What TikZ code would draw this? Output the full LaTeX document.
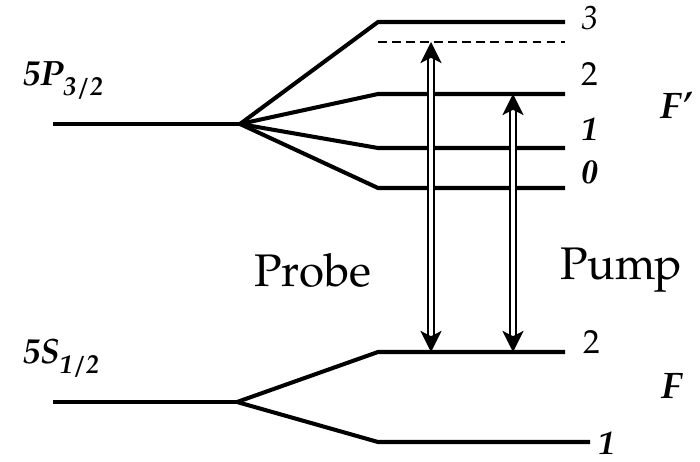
\documentclass[tikz,border=0pt]{standalone}
\usepackage{fontspec}
\setmainfont{texgyrepagella}[Extension=.otf, UprightFont=*-regular, BoldFont=*-bold, ItalicFont=*-italic, BoldItalicFont=*-bolditalic]
\usetikzlibrary{arrows.meta}

\tikzset{
	level/.style={line width=2.3pt},
	fan/.style={line width=2.3pt},
	beam/.style={double, double distance=2.6pt, line width=1.2pt, {Stealth[length=12pt, width=12pt, inset=3pt]}-{Stealth[length=12pt, width=12pt, inset=3pt]}},
	fnum/.style={font=\fontsize{19}{22}\selectfont\bfseries\itshape},
	hyper/.style={font=\fontsize{21}{24}\selectfont\bfseries\itshape},
	term/.style={font=\fontsize{20}{24}\selectfont\bfseries\itshape, anchor=south west, inner sep=0pt},
	beamlabel/.style={font=\fontsize{26}{30}\selectfont}
}
\newcommand{\sublow}[1]{\kern-0.5pt\raisebox{-0.28em}{\fontsize{15}{17}\selectfont #1}}

\begin{document}
\begin{tikzpicture}[x=0.02cm, y=-0.02cm]
		\useasboundingbox (0, 0) rectangle (700, 462);
		% excited state 5P3/2
		\coordinate (p0) at (53, 124);
		\coordinate (psplit) at (240, 124);
		\draw[level] (p0) -- (psplit);
		\node[term] (plabel) at (23, 100) {5P\sublow{3/2}};
		\coordinate (f3a) at (378, 22); \coordinate (f3b) at (565, 22);
		\coordinate (f2a) at (378, 94); \coordinate (f2b) at (565, 94);
		\coordinate (f1a) at (378, 148); \coordinate (f1b) at (565, 148);
		\coordinate (f0a) at (378, 188); \coordinate (f0b) at (565, 188);
		\foreach \lv in {f3, f2, f1, f0}{
			\draw[fan] (psplit) -- (\lv a) -- (\lv b);
		}
		\coordinate (virta) at (378, 42); \coordinate (virtb) at (565, 42);
		\draw[line width=0.8pt, dash pattern={on 5pt off 3pt}] (virta) -- (virtb);
		\node[font=\fontsize{19}{22}\selectfont\itshape] (n3) at (590, 18) {3};
		\node[font=\fontsize{19}{22}\selectfont] (n2e) at (590, 74) {2};
		\node[fnum] (n1e) at (590, 129) {1};
		\node[fnum] (n0e) at (590, 172) {0};
		\node[hyper] (fprime) at (676, 105) {F\kern0.5pt\textquoteright};
		% ground state 5S1/2
		\coordinate (s0) at (53, 402);
		\coordinate (ssplit) at (237, 402);
		\draw[level] (s0) -- (ssplit);
		\node[term] (slabel) at (23, 378) {5S\sublow{1/2}};
		\coordinate (g2a) at (378, 352); \coordinate (g2b) at (565, 352);
		\coordinate (g1a) at (378, 442); \coordinate (g1b) at (590, 442);
		\draw[fan] (ssplit) -- (g2a) -- (g2b);
		\draw[fan] (ssplit) -- (g1a) -- (g1b);
		\node[font=\fontsize{19}{22}\selectfont] (n2g) at (592, 342) {2};
		\node[fnum, inner sep=1pt] (n1g) at (607, 443) {1};
		\node[hyper] (flabel) at (672, 386) {F};
		% laser transitions
		\coordinate (probetop) at (431, 42); \coordinate (probebot) at (431, 352);
		\coordinate (pumptop) at (513, 94); \coordinate (pumpbot) at (513, 352);
		\draw[beam] (probebot) -- (probetop);
		\draw[beam] (pumpbot) -- (pumptop);
		\node[beamlabel] (probe) at (313, 270) {Probe};
		\node[beamlabel] (pump) at (621, 270) {Pump};
\end{tikzpicture}
\end{document}
